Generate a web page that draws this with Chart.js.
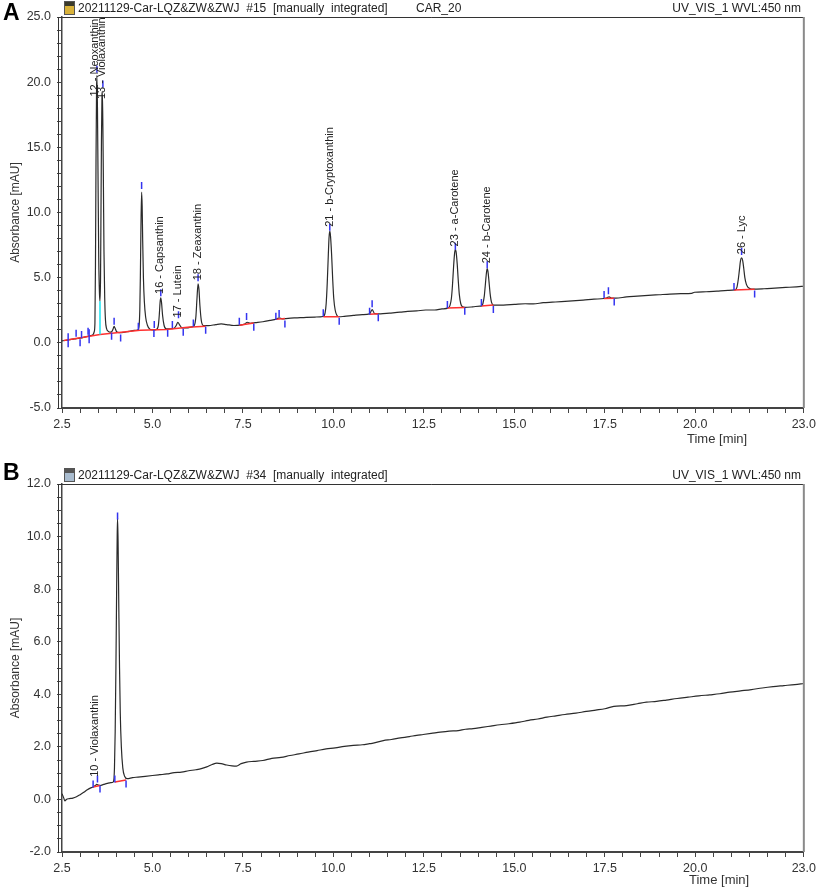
<!DOCTYPE html>
<html lang="en">
<head>
<meta charset="UTF-8">
<title>Chromatograms A and B</title>
<script src="https://cdn.jsdelivr.net/npm/chart.js"></script>
<style>
  body { margin: 0; background: #fff; font-family: "Liberation Sans", Arial, sans-serif; color: #222; }
  #page { position: relative; width: 816px; height: 889px; overflow: hidden; }
  canvas { position: absolute; left: 0; }
  .txt { position: absolute; font-size: 12px; line-height: 14px; white-space: pre; }
  .axis { position: absolute; font-size: 13px; line-height: 14px; color: #333; }
  .letter { position: absolute; left: 3px; font-weight: bold; font-size: 23px; line-height: 23px; color: #000; }
  .icon { position: absolute; left: 64px; width: 9px; height: 12px; border: 1px solid #555; }
</style>
</head>
<body>
<div id="page">
  <canvas id="chartA" width="820" height="445" style="top:0"></canvas>
  <canvas id="chartB" width="820" height="444" style="top:445px"></canvas>

  <div class="letter" style="top:1px">A</div>
  <div class="icon" style="top:1px;background:linear-gradient(#3a3a2a 0 35%, #d9b23a 35% 100%)"></div>
  <div class="txt" style="left:78px;top:1px">20211129-Car-LQZ&amp;ZW&amp;ZWJ  #15  [manually  integrated]</div>
  <div class="txt" style="left:416px;top:1px">CAR_20</div>
  <div class="txt" style="right:15px;top:1px">UV_VIS_1 WVL:450 nm</div>
  <div class="axis" style="left:687px;top:432px">Time [min]</div>

  <div class="letter" style="top:461px">B</div>
  <div class="icon" style="top:468px;background:linear-gradient(#555 0 30%, #a9bccf 30% 100%)"></div>
  <div class="txt" style="left:78px;top:468px">20211129-Car-LQZ&amp;ZW&amp;ZWJ  #34  [manually  integrated]</div>
  <div class="txt" style="right:15px;top:468px">UV_VIS_1 WVL:450 nm</div>
  <div class="axis" style="left:689px;top:873px">Time [min]</div>
</div>

<script>
// ---- panel A: trace (time in min, absorbance in mAU)
const timeA = [2.50, 2.58, 2.67, 2.80, 2.90, 3.00, 3.10, 3.20, 3.28, 3.35, 3.39, 3.41, 3.425, 3.44, 3.455, 3.465, 3.48, 3.495, 3.515, 3.535, 3.55,
  3.565, 3.575, 3.59, 3.605, 3.615, 3.63, 3.645, 3.66, 3.68, 3.70, 3.73, 3.78, 3.83, 3.87, 3.91, 3.94, 3.97, 4.01, 4.08, 4.20, 4.35, 4.50,
  4.60, 4.63, 4.65, 4.665, 4.68, 4.70, 4.715, 4.73, 4.75, 4.775, 4.81, 4.86, 4.93, 5.02, 5.10, 5.16, 5.19, 5.21, 5.23, 5.25, 5.28, 5.32, 5.38,
  5.50, 5.60, 5.66, 5.70, 5.75, 5.82, 5.95, 6.08, 6.15, 6.20, 6.23, 6.26, 6.285, 6.31, 6.35, 6.41, 6.55, 6.75, 6.90, 7.05, 7.25, 7.42, 7.55,
  7.62, 7.70, 7.85, 8.05, 8.25, 8.42, 8.50, 8.58, 8.75, 9.00, 9.25, 9.50, 9.72, 9.77, 9.80, 9.83, 9.86, 9.88, 9.90, 9.92, 9.95, 9.98, 10.01,
  10.05, 10.10, 10.16, 10.30, 10.55, 10.80, 11.00, 11.07, 11.14, 11.30, 11.55, 11.84, 12.05, 12.30, 12.55, 12.80, 13.00, 13.17, 13.22, 13.26,
  13.29, 13.32, 13.35, 13.37, 13.39, 13.42, 13.45, 13.48, 13.52, 13.57, 13.63, 13.85, 14.05, 14.09, 14.13, 14.17, 14.20, 14.23, 14.25, 14.27,
  14.30, 14.33, 14.37, 14.42, 14.70, 15.00, 15.30, 15.52, 15.80, 16.05, 16.30, 16.60, 16.90, 17.20, 17.48, 17.56, 17.62, 17.68, 17.80, 18.10,
  18.40, 18.70, 19.00, 19.30, 19.60, 19.90, 19.98, 20.30, 20.60, 20.90, 21.10, 21.15, 21.19, 21.22, 21.25, 21.28, 21.31, 21.34, 21.37, 21.41,
  21.46, 21.52, 21.60, 21.90, 22.20, 22.50, 22.80, 23.00];
const absA = [0.15, 0.18, 0.22, 0.28, 0.33, 0.36, 0.42, 0.50, 0.55, 0.60, 0.85, 1.5, 6.0, 14.0, 19.5, 20.5, 18.0, 13.0, 6.5, 3.8, 3.2,
  5.0, 9.0, 15.5, 19.0, 19.3, 16.5, 12.0, 7.0, 3.5, 1.8, 1.1, 0.88, 0.82, 0.85, 1.05, 1.27, 1.1, 0.85, 0.78, 0.80, 0.88, 0.95,
  1.0, 1.3, 2.5, 5.0, 8.5, 11.56, 10.5, 7.8, 5.0, 3.2, 2.0, 1.35, 1.05, 1.0, 1.02, 1.3, 2.2, 3.1, 3.45, 3.1, 2.1, 1.35, 1.08,
  1.08, 1.12, 1.35, 1.58, 1.38, 1.15, 1.15, 1.22, 1.3, 2.0, 3.4, 4.53, 4.1, 2.9, 1.7, 1.32, 1.32, 1.40, 1.45, 1.40, 1.33, 1.36, 1.45,
  1.58, 1.50, 1.55, 1.62, 1.72, 1.82, 1.92, 1.84, 1.88, 1.92, 1.96, 1.98, 2.02, 2.3, 3.0, 4.6, 6.8, 8.1, 8.57, 8.2, 6.8, 4.9, 3.4,
  2.5, 2.1, 2.0, 2.03, 2.10, 2.16, 2.22, 2.55, 2.24, 2.22, 2.28, 2.35, 2.42, 2.45, 2.52, 2.52, 2.60, 2.68, 2.85, 3.4,
  4.4, 5.8, 6.9, 7.16, 7.0, 6.1, 4.8, 3.7, 3.0, 2.76, 2.72, 2.76, 2.82, 2.82, 3.0, 3.6, 4.5, 5.4, 5.70, 5.5,
  4.7, 3.8, 3.1, 2.9, 2.90, 2.95, 3.00, 2.99, 3.08, 3.12, 3.16, 3.22, 3.28, 3.35, 3.40, 3.46, 3.53, 3.44, 3.43, 3.52,
  3.58, 3.64, 3.69, 3.74, 3.77, 3.80, 3.88, 3.92, 3.97, 4.02, 4.06, 4.25, 4.9, 5.6, 6.3, 6.52, 6.3, 5.7, 5.0, 4.5,
  4.25, 4.15, 4.12, 4.15, 4.20, 4.25, 4.30, 4.34];

// integration baselines (red), null breaks the line
const baseTimeA = [2.55, 3.55, 4.66, 5.39, 5.97, 6.47, 6.47, 7.40, 7.80, 7.80, 8.41, 8.66, 8.66, 9.72, 10.16, 10.16, 11.00, 11.24, 11.24,
  13.15, 13.63, 13.63, 14.09, 14.42, 14.42, 17.48, 17.76, 17.76, 21.07, 21.64];
const baseAbsA = [0.18, 0.64, 0.97, 1.02, 1.20, 1.27, null, 1.35, 1.52, null, 1.80, 1.87, null, 2.00, 2.00, null, 2.20, 2.23, null,
  2.68, 2.72, null, 2.82, 2.90, null, 3.40, 3.43, null, 4.06, 4.12];

// drop line between peaks 12 and 13 (cyan)
const dropTimeA = [3.55, 3.55];
const dropAbsA = [0.64, 3.2];

// peak start / apex / end marks (blue)
const markTimeA = [2.89, 3.00, 3.04, 3.22, 3.465, 3.63, 3.87, 3.94, 4.12, 4.61, 4.70, 5.04, 5.05, 5.23, 5.42, 5.55, 5.72, 5.85, 6.13, 6.26,
  6.47, 7.40, 7.60, 7.80, 8.41, 8.50, 8.66, 9.72, 9.90, 10.16, 11.00, 11.07, 11.24, 13.15, 13.37, 13.63, 14.09, 14.25, 14.42, 17.48,
  17.60, 17.76, 21.07, 21.28, 21.64];
const markAbsA = [0.74, 0.00, 0.64, 0.89, 21.0, 19.85, 0.50, 1.65, 0.38, 1.27, 12.07, 0.71, 1.40, 3.84, 0.74, 1.40, 2.15, 0.82, 1.53, 5.00,
  0.96, 1.66, 2.02, 1.19, 2.04, 2.25, 1.44, 2.30, 8.87, 1.66, 2.43, 3.00, 1.92, 2.94, 7.41, 2.43, 3.09, 6.00, 2.55, 3.70,
  3.99, 3.13, 4.32, 7.00, 3.74];
const longMarkTimeA = [2.67, 3.25];
const longMarkAbsA = [0.20, 0.50];

// peak names, drawn upward from the given point
const nameTimeA = [3.42, 3.61, 5.22, 5.70, 6.26, 9.90, 13.37, 14.25, 21.28];
const nameAbsA = [18.9, 18.7, 3.75, 1.95, 4.8, 8.9, 7.4, 6.1, 6.8];
const nameTextA = ['12 - Neoxanthin', '13 - Violaxanthin', '16 - Capsanthin', '17 - Lutein', '18 - Zeaxanthin',
  '21 - b-Cryptoxanthin', '23 - a-Carotene', '24 - b-Carotene', '26 - Lyc'];

// ---- panel B
const timeB = [2.50, 2.55, 2.58, 2.62, 2.70, 2.80, 2.90, 3.00, 3.10, 3.20, 3.28, 3.36, 3.42, 3.46, 3.50, 3.55, 3.65, 3.75, 3.85, 3.92,
  3.95, 3.97, 3.99, 4.01, 4.025, 4.035, 4.05, 4.07, 4.09, 4.11, 4.14, 4.18, 4.23, 4.30, 4.45, 4.60, 4.80, 5.00, 5.20, 5.40, 5.60,
  5.80, 6.00, 6.20, 6.35, 6.50, 6.65, 6.78, 6.90, 7.05, 7.20, 7.32, 7.45, 7.60, 7.80, 8.05, 8.30, 8.55, 8.80, 9.05, 9.30, 9.55,
  9.80, 10.05, 10.30, 10.55, 10.80, 11.00, 11.10, 11.38, 11.60, 11.85, 12.10, 12.30, 12.48, 12.70, 12.95, 13.20, 13.45, 13.65,
  13.86, 14.10, 14.35, 14.60, 14.85, 15.15, 15.40, 15.65, 15.90, 16.15, 16.40, 16.70, 16.99, 17.25, 17.50, 17.75, 18.10, 18.40,
  18.65, 18.93, 19.20, 19.50, 19.80, 20.10, 20.40, 20.68, 20.95, 21.25, 21.55, 21.85, 22.15, 22.45, 22.75, 23.00];
const absB = [0.22, 0.05, -0.06, 0.00, 0.03, 0.05, 0.10, 0.18, 0.27, 0.37, 0.43, 0.47, 0.53, 0.57, 0.55, 0.53, 0.57, 0.61, 0.64, 0.67,
  1.2, 2.6, 5.0, 8.0, 10.0, 10.7, 9.8, 7.3, 5.0, 3.3, 2.0, 1.2, 0.88, 0.79, 0.83, 0.85, 0.88, 0.91, 0.94, 0.97, 1.02,
  1.04, 1.09, 1.13, 1.17, 1.24, 1.33, 1.38, 1.36, 1.31, 1.28, 1.27, 1.36, 1.42, 1.45, 1.48, 1.56, 1.60, 1.67, 1.73, 1.80, 1.86,
  1.92, 1.96, 2.02, 2.06, 2.08, 2.12, 2.14, 2.24, 2.28, 2.34, 2.39, 2.44, 2.47, 2.51, 2.56, 2.60, 2.62, 2.67,
  2.69, 2.74, 2.79, 2.84, 2.88, 2.94, 3.01, 3.06, 3.13, 3.18, 3.23, 3.28, 3.35, 3.40, 3.45, 3.54, 3.57, 3.64,
  3.70, 3.73, 3.78, 3.84, 3.89, 3.94, 3.98, 4.02, 4.08, 4.13, 4.18, 4.24, 4.29, 4.33, 4.37, 4.41];

const baseTimeB = [3.36, 3.55, 3.55, 3.96, 4.27];
const baseAbsB = [0.47, 0.53, null, 0.66, 0.74];

const markTimeB = [3.36, 3.48, 3.55, 3.96, 4.035, 4.27];
const markAbsB = [0.59, 0.78, 0.40, 0.78, 10.78, 0.59];

const nameTimeB = [3.42];
const nameAbsB = [0.86];
const nameTextB = ['10 - Violaxanthin'];

const FONT = '"Liberation Sans", Arial, sans-serif';

function pts(xs, ys) {
  return xs.map((x, i) => ({ x: x, y: ys[i] }));
}

function near(v, step) {
  return Math.abs(v / step - Math.round(v / step)) < 1e-6;
}

// plot frame: dark top, grey right, second line at the left
const framePlugin = {
  id: 'frame',
  afterDraw(chart) {
    const { ctx, chartArea: a } = chart;
    ctx.save();
    ctx.lineWidth = 1;
    ctx.strokeStyle = '#333';
    ctx.beginPath();
    ctx.moveTo(a.left - 3.5, a.top + 0.5);
    ctx.lineTo(a.right, a.top + 0.5);
    ctx.stroke();
    ctx.beginPath();
    ctx.moveTo(a.left - 3.5, a.top);
    ctx.lineTo(a.left - 3.5, a.bottom + 1);
    ctx.stroke();
    ctx.strokeStyle = '#8a8a8a';
    ctx.lineWidth = 2;
    ctx.beginPath();
    ctx.moveTo(a.right, a.top);
    ctx.lineTo(a.right, a.bottom);
    ctx.stroke();
    ctx.restore();
  }
};

const peakNamePlugin = {
  id: 'peakNames',
  afterDatasetsDraw(chart, args, opts) {
    const { ctx, scales } = chart;
    ctx.save();
    ctx.font = '11px ' + FONT;
    ctx.fillStyle = '#222';
    ctx.textAlign = 'left';
    ctx.textBaseline = 'middle';
    opts.times.forEach((t, i) => {
      ctx.save();
      ctx.translate(scales.x.getPixelForValue(t), scales.y.getPixelForValue(opts.values[i]));
      ctx.rotate(-Math.PI / 2);
      ctx.fillText(opts.texts[i], 0, 0);
      ctx.restore();
    });
    ctx.restore();
  }
};

function makeChart(id, o) {
  const datasets = [
    { data: pts(o.time, o.abs), borderColor: '#2a2a2a', borderWidth: 1.2, pointRadius: 0,
      cubicInterpolationMode: 'monotone', order: 4 },
    { data: pts(o.baseTime, o.baseAbs), borderColor: '#ff3030', borderWidth: 1.5, pointRadius: 0,
      spanGaps: false, order: 3 },
    { data: pts(o.markTime, o.markAbs), showLine: false, pointStyle: 'line', pointRotation: 90,
      pointRadius: 3.5, pointBorderColor: '#3434f0', pointBorderWidth: 1.5, order: 1 }
  ];
  if (o.dropTime) {
    datasets.push({ data: pts(o.dropTime, o.dropAbs), borderColor: '#19e3f0', borderWidth: 1.5,
      pointRadius: 0, order: 2 });
  }
  if (o.longTime) {
    datasets.push({ data: pts(o.longTime, o.longAbs), showLine: false, pointStyle: 'line', pointRotation: 90,
      pointRadius: 7, pointBorderColor: '#3434f0', pointBorderWidth: 1.5, order: 1 });
  }

  return new Chart(document.getElementById(id), {
    type: 'line',
    data: { datasets: datasets },
    plugins: [framePlugin, peakNamePlugin],
    options: {
      responsive: false,
      animation: false,
      events: [],
      // the "23.0" label sets the right gap; the canvas is a little wider than the page
      layout: { padding: { top: o.top, right: 0, left: 0, bottom: 0 } },
      plugins: {
        legend: { display: false },
        tooltip: { enabled: false },
        peakNames: { times: o.nameTime, values: o.nameAbs, texts: o.nameText }
      },
      scales: {
        x: {
          type: 'linear', min: 2.5, max: 23,
          afterFit(s) { s.height = 37; },
          ticks: {
            stepSize: 0.5, autoSkip: false, maxRotation: 0, padding: 4,
            color: '#333', font: { family: FONT, size: 12.5 },
            callback(v) { return (near(v, 2.5) && v <= 20) || v === 23 ? v.toFixed(1) : ''; }
          },
          grid: { drawOnChartArea: false, tickLength: 5, color: '#444' },
          border: { color: '#444', width: 2 }
        },
        y: {
          min: o.yMin, max: o.yMax,
          afterFit(s) { s.width = 62; },
          ticks: {
            stepSize: o.yMinor, autoSkip: false, padding: 6,
            color: '#333', font: { family: FONT, size: 12.5 },
            callback(v) { return near(v, o.yMajor) ? v.toFixed(1) : ''; }
          },
          grid: { drawOnChartArea: false, tickLength: 5, color: '#444' },
          border: { color: '#444', width: 1.5 },
          title: { display: true, text: 'Absorbance [mAU]', color: '#333',
            font: { family: FONT, size: 12 }, padding: { top: 8, bottom: 0 } }
        }
      }
    }
  });
}

makeChart('chartA', {
  time: timeA, abs: absA, baseTime: baseTimeA, baseAbs: baseAbsA,
  dropTime: dropTimeA, dropAbs: dropAbsA,
  markTime: markTimeA, markAbs: markAbsA, longTime: longMarkTimeA, longAbs: longMarkAbsA,
  nameTime: nameTimeA, nameAbs: nameAbsA, nameText: nameTextA,
  yMin: -5, yMax: 25, yMinor: 1, yMajor: 5, top: 17
});

makeChart('chartB', {
  time: timeB, abs: absB, baseTime: baseTimeB, baseAbs: baseAbsB,
  markTime: markTimeB, markAbs: markAbsB,
  nameTime: nameTimeB, nameAbs: nameAbsB, nameText: nameTextB,
  yMin: -2, yMax: 12, yMinor: 0.5, yMajor: 2, top: 39
});
</script>
</body>
</html>
